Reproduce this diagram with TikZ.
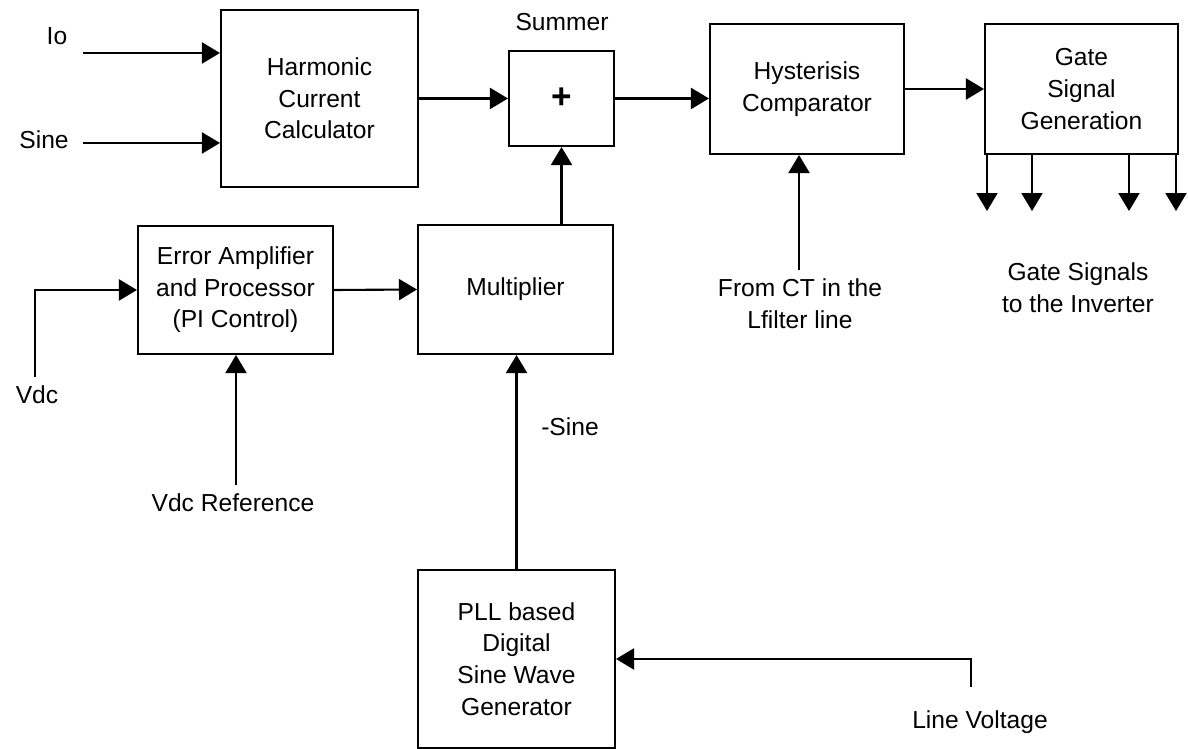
\documentclass[tikz,border=0pt]{standalone}
\usepackage{fontspec}
\setmainfont{Liberation Sans}
\usepackage{tikz}
\usetikzlibrary{arrows.meta}
\usetikzlibrary{calc}

\tikzset{
  blk/.style={draw, line width=1.2pt, align=center, inner sep=0pt},
  sig/.style={line width=1.2pt, -{Triangle[length=3.6mm,width=4.2mm]}},
  lbl/.style={align=center, inner sep=0pt}
}

\begin{document}
\begin{tikzpicture}[x=0.02cm,y=-0.02cm,font=\fontsize{14}{18}\selectfont]
  \useasboundingbox (0,0) rectangle (1188,749);
%%\draw[step=50,color=black!20,dotted] (0,0) grid (1188,749);
  % blocks
  \node[blk, minimum width=3.94cm, minimum height=3.54cm] (harm) at (319.5,98.5) {Harmonic\\Current\\Calculator};
  \node[blk, minimum width=2.10cm, minimum height=1.90cm] (summer) at (561.5,98.5) {\fontsize{20}{20}\selectfont\textbf{+}};
  \node[blk, minimum width=3.88cm, minimum height=2.60cm] (hyst) at (807,89) {Hysterisis\\Comparator};
  \node[blk, minimum width=3.86cm, minimum height=2.60cm] (gate) at (1081.5,89) {Gate\\Signal\\Generation};
  \node[blk, minimum width=3.90cm, minimum height=2.56cm] (erramp) at (235.5,290) {Error Amplifier\\and Processor\\(PI Control)};
  \node[blk, minimum width=3.90cm, minimum height=2.58cm] (mult) at (515.5,289.5) {Multiplier};
  \node[blk, minimum width=3.94cm, minimum height=3.56cm] (pll) at (516.5,659) {PLL based\\Digital\\Sine Wave\\Generator};

  % free ends
  \coordinate (io) at (83,53);
  \coordinate (sine) at (83,143);
  \coordinate (vdc) at (35,377);
  \coordinate (vref) at (236,485);
  \coordinate (ct) at (799,270);
  \coordinate (linev) at (971,687);

  % labels
  \node[lbl] (iolbl) at (57,36) {Io};
  \node[lbl] (sinelbl) at (44,140) {Sine};
  \node[lbl] (summerlbl) at (562,22) {Summer};
  \node[lbl] (vdclbl) at (37,395) {Vdc};
  \node[lbl] (vreflbl) at (233,503) {Vdc Reference};
  \node[lbl] (ctlbl) at (800,304) {From CT in the\\Lfilter line};
  \node[lbl] (gslbl) at (1078,288) {Gate Signals\\to the Inverter};
  \node[lbl] (nsinelbl) at (570,427) {-Sine};
  \node[lbl] (lvlbl) at (980,722) {Line Voltage};

  % connections
  \draw[sig] (io) -- (io -| harm.west);
  \draw[sig] (sine) -- (sine -| harm.west);
  \draw[sig] (harm.east) -- (summer.west);
  \draw[sig] (summer.east) -- (summer.east -| hyst.west);
  \draw[sig] (hyst.east) -- (gate.west);
  \foreach \gx in {987,1032,1129,1176}
    \draw[sig] (gate.south -| \gx,0) -- ++(0,56);
  \draw[sig] (ct) -- (ct |- hyst.south);
  \draw[sig] (vdc) |- (erramp.west);
  \draw[sig] (vref) -- (vref |- erramp.south);
  \draw[sig] (erramp.east) -- (mult.west);
  \draw[sig] (summer.south |- mult.north) -- (summer.south);
  \draw[sig] (pll.north) -- (pll.north |- mult.south);
  \draw[sig] (linev) |- (pll.east);
\end{tikzpicture}
\end{document}
